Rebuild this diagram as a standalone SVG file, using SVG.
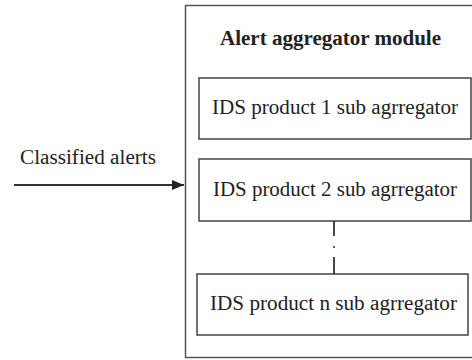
<svg xmlns="http://www.w3.org/2000/svg" width="472" height="360" viewBox="0 0 472 360">
<style>
.box{fill:#fff;stroke:#444;stroke-width:1.5}
.outer{fill:#fff;stroke:#555;stroke-width:1.5}
.t{font-family:'Liberation Serif','DejaVu Serif',serif;font-size:20px;fill:#222}
.b{font-weight:bold}
.ln{stroke:#333;stroke-width:1.8;fill:none}
</style>
<defs>
<marker id="ah" markerWidth="12" markerHeight="10" refX="12" refY="5" orient="auto" markerUnits="userSpaceOnUse">
<path d="M0,0 L12,5 L0,10 Z" fill="#222"/>
</marker>
</defs>
<rect width="472" height="360" fill="#fff"/>
<g id="module">
<rect class="outer" x="185.5" y="5.5" width="300" height="352"/>
<text class="t b" x="220" y="45" textLength="221" lengthAdjust="spacingAndGlyphs">Alert aggregator module</text>
</g>
<g id="sub1">
<rect class="box" x="199" y="78" width="272" height="61"/>
<text class="t" x="212" y="114" textLength="246" lengthAdjust="spacingAndGlyphs">IDS product 1 sub agrregator</text>
</g>
<g id="sub2">
<rect class="box" x="199" y="159" width="272" height="62"/>
<text class="t" x="213" y="196" textLength="244" lengthAdjust="spacingAndGlyphs">IDS product 2 sub agrregator</text>
</g>
<g id="subn">
<rect class="box" x="197" y="274" width="271" height="61"/>
<text class="t" x="210" y="310" textLength="247" lengthAdjust="spacingAndGlyphs">IDS product n sub agrregator</text>
</g>
<g id="label">
<text class="t" x="20" y="164" textLength="136" lengthAdjust="spacingAndGlyphs">Classified alerts</text>
</g>
<g id="connectors">
<line class="ln" x1="14" y1="185" x2="184" y2="185" marker-end="url(#ah)"/>
<line class="ln" x1="334" y1="221" x2="334" y2="236"/>
<circle cx="334" cy="247" r="1" fill="#333"/>
<line class="ln" x1="334" y1="257" x2="334" y2="274"/>
</g>
</svg>
